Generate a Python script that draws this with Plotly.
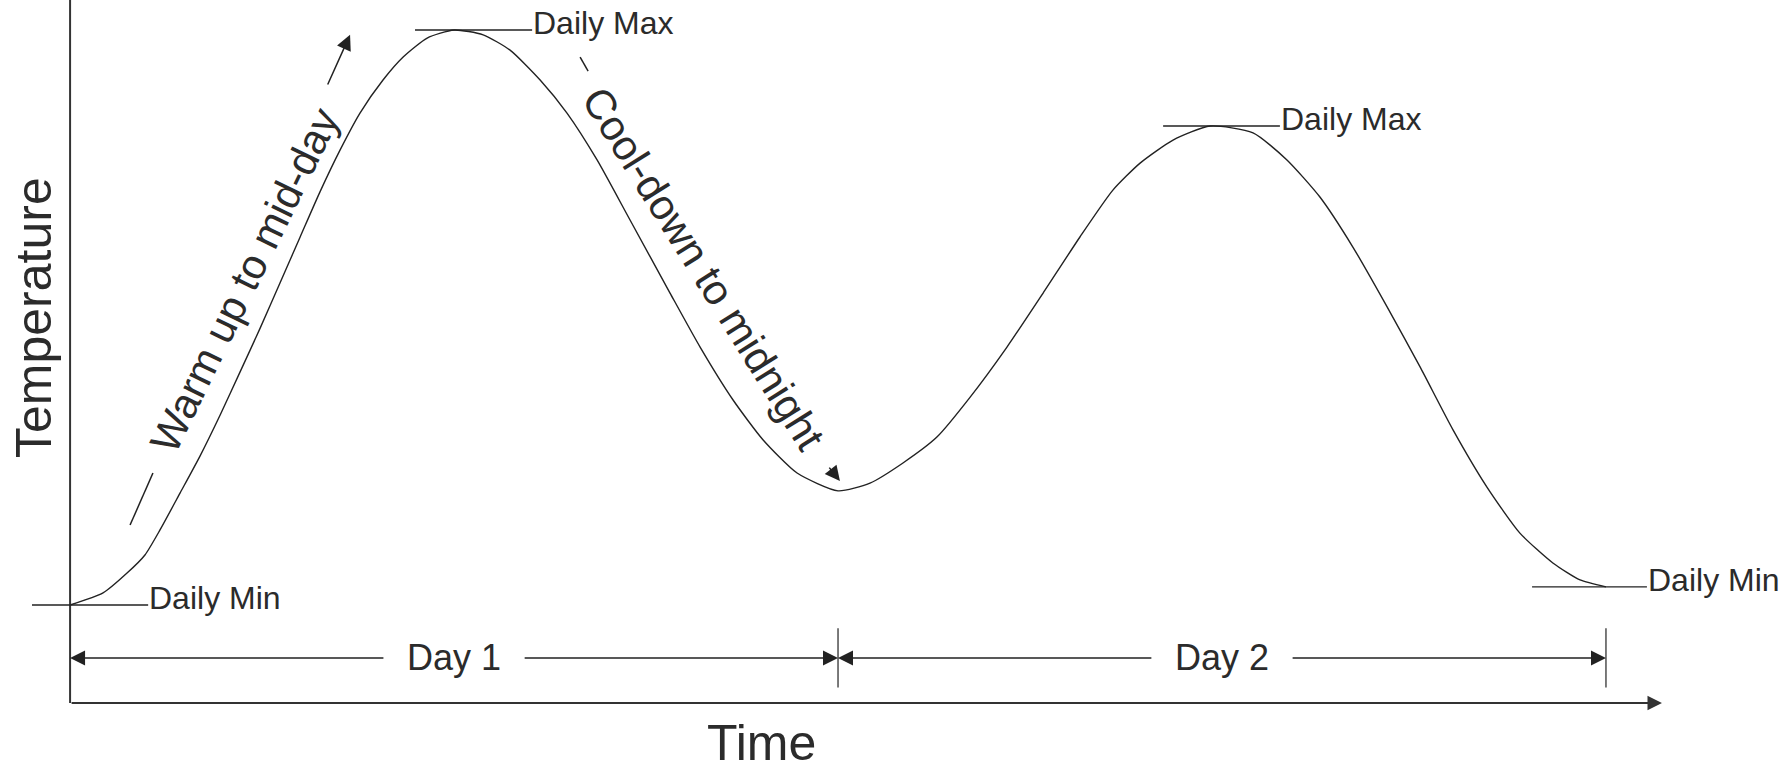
import plotly.graph_objects as go

# hours since first midnight, temperature (arbitrary degrees)
hours = [0.0, 1.03, 1.78, 2.34, 2.81, 3.44, 4.06, 4.69, 5.31, 5.94, 6.56, 7.19,
         7.81, 8.44, 9.06, 9.78, 10.41, 11.16, 12.0, 12.91, 13.75, 14.69, 15.53,
         16.47, 17.5, 18.75, 19.69, 20.72, 21.66, 22.72, 24.0, 25.0, 26.03, 27.09,
         28.13, 29.28, 30.41, 31.56, 32.59, 33.44, 34.47, 35.63, 36.97, 38.03,
         39.06, 40.09, 41.16, 42.19, 43.22, 44.28, 45.31, 46.34, 47.19, 48.0]
temps = [10.0, 10.42, 11.11, 11.74, 12.61, 13.9, 15.18, 16.61, 18.1, 19.63, 21.2, 22.8,
         24.37, 25.83, 27.11, 28.26, 29.06, 29.72, 30.0, 29.83, 29.3, 28.26, 27.11,
         25.48, 23.39, 20.85, 18.97, 17.13, 15.74, 14.59, 13.97, 14.24, 14.94, 15.84,
         17.23, 18.97, 20.85, 22.8, 24.43, 25.37, 26.17, 26.66, 26.42, 25.48,
         24.19, 22.45, 20.37, 18.28, 16.09, 14.1, 12.5, 11.46, 10.87, 10.63]

day_names = ["Day 1", "Day 2"]
day_bounds = [0, 24, 48]

extreme_labels = ["Daily Min", "Daily Max", "Daily Max", "Daily Min"]
extreme_hours = [0.0, 12.0, 35.63, 48.0]
extreme_temps = [10.0, 30.0, 26.66, 10.63]
# leader line reach left/right of the extreme (hours)
leader_left = [1.19, 1.22, 1.47, 2.31]
leader_right = [2.44, 2.44, 2.18, 1.28]

INK = "#222222"
TXT = "#2b2b2b"
FONT = "Liberation Sans, Arial, sans-serif"

X_RANGE = [-2.19, 53.47]
Y_RANGE = [4.504, 31.043]
Y0 = 6.59          # where the time axis sits
DIM_Y = 8.157      # day dimension line
TICK_HALF = 1.03
GAP = 2.16         # half gap around day labels

fig = go.Figure()

fig.add_trace(go.Scatter(
    x=hours, y=temps, mode="lines",
    line=dict(color=INK, width=1.4, shape="spline", smoothing=0.6),
    hoverinfo="skip", showlegend=False
))

# y axis line
fig.add_shape(type="line", x0=0, x1=0, y0=Y0, y1=Y_RANGE[1] + 1,
              line=dict(color="#333333", width=2))

ann = []
# time axis with arrow
ann.append(dict(x=49.75, y=Y0, ax=0, ay=Y0, axref="x", ayref="y", text="",
                showarrow=True, arrowhead=2, arrowsize=1.45, arrowwidth=2,
                arrowcolor="#333333", standoff=0))

# extreme leader lines + labels
for lab, h, t, l, r in zip(extreme_labels, extreme_hours, extreme_temps, leader_left, leader_right):
    fig.add_shape(type="line", x0=h - l, x1=h + r, y0=t, y1=t,
                  line=dict(color=INK, width=1.3))
    ann.append(dict(x=h + r, y=t, text=lab, showarrow=False, xanchor="left",
                    yanchor="middle", yshift=7, xshift=-1,
                    font=dict(family=FONT, size=32, color=TXT)))

# day dimension lines
for i, name in enumerate(day_names):
    a, b = day_bounds[i], day_bounds[i + 1]
    mid = (a + b) / 2
    for tail, tip in [(mid - GAP, a), (mid + GAP, b)]:
        ann.append(dict(x=tip, y=DIM_Y, ax=tail, ay=DIM_Y, axref="x", ayref="y",
                        text="", showarrow=True, arrowhead=2, arrowsize=2,
                        arrowwidth=1.5, arrowcolor=INK, standoff=0))
    ann.append(dict(x=mid, y=DIM_Y, text=name, showarrow=False,
                    xanchor="center", yanchor="middle",
                    font=dict(family=FONT, size=36, color=TXT)))
for b in day_bounds[1:]:
    fig.add_shape(type="line", x0=b, x1=b, y0=DIM_Y - TICK_HALF, y1=DIM_Y + TICK_HALF,
                  line=dict(color=INK, width=1.2))

# warm-up / cool-down notes
ann.append(dict(x=5.44, y=21.3, text="Warm up to mid-day", textangle=-64,
                showarrow=False, xanchor="center", yanchor="middle",
                font=dict(family=FONT, size=42, color=TXT)))
ann.append(dict(x=19.8, y=21.72, text="Cool-down to midnight", textangle=58,
                showarrow=False, xanchor="center", yanchor="middle",
                font=dict(family=FONT, size=42, color=TXT)))
fig.add_shape(type="line", x0=1.875, x1=2.59, y0=12.78, y1=14.59,
              line=dict(color=INK, width=1.5))
fig.add_shape(type="line", x0=15.94, x1=16.19, y0=29.06, y1=28.57,
              line=dict(color=INK, width=1.5))
ann.append(dict(x=8.75, y=29.83, ax=8.03, ay=28.05, axref="x", ayref="y", text="",
                showarrow=True, arrowhead=2, arrowsize=2, arrowwidth=1.5,
                arrowcolor=INK, standoff=0))
ann.append(dict(x=24.06, y=14.31, ax=23.69, ay=14.83, axref="x", ayref="y", text="",
                showarrow=True, arrowhead=2, arrowsize=2, arrowwidth=1.5,
                arrowcolor=INK, standoff=0))

# axis titles
ann.append(dict(x=761 / 1781, y=1 - 743 / 763, xref="paper", yref="paper",
                text="Time", showarrow=False, xanchor="center", yanchor="middle",
                font=dict(family=FONT, size=50, color=TXT)))
ann.append(dict(x=34 / 1781, y=1 - 318 / 763, xref="paper", yref="paper",
                text="Temperature", textangle=-90, showarrow=False,
                xanchor="center", yanchor="middle",
                font=dict(family=FONT, size=50, color=TXT)))

fig.update_layout(
    width=1781, height=763,
    margin=dict(l=0, r=0, t=0, b=0),
    paper_bgcolor="white", plot_bgcolor="white",
    xaxis=dict(range=X_RANGE, visible=False),
    yaxis=dict(range=Y_RANGE, visible=False),
    annotations=ann,
    showlegend=False
)

# drop the browser's default body margin so the figure fills the window exactly
fig.write_html("out.html", config={"displayModeBar": False},
               post_script="document.body.style.margin='0';")
